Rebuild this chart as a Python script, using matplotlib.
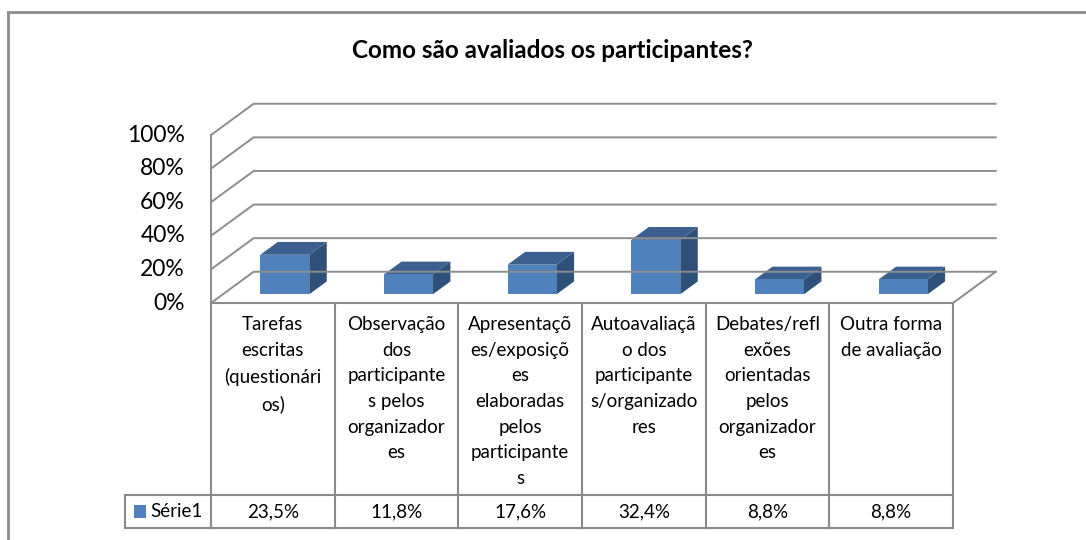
import matplotlib.pyplot as plt
from matplotlib.patches import Polygon, Rectangle
from matplotlib.lines import Line2D

plt.rcParams['font.family'] = ['Lato', 'DejaVu Sans']

# data
categories = [
    "Tarefas\nescritas\n(questionári\nos)",
    "Observação\ndos\nparticipante\ns pelos\norganizador\nes",
    "Apresentaçõ\nes/exposiçõ\nes\nelaboradas\npelos\nparticipante\ns",
    "Autoavaliaçã\no dos\nparticipante\ns/organizado\nres",
    "Debates/refl\nexões\norientadas\npelos\norganizador\nes",
    "Outra forma\nde avaliação",
]
values = [0.235, 0.118, 0.176, 0.324, 0.088, 0.088]
value_labels = ["23,5%", "11,8%", "17,6%", "32,4%", "8,8%", "8,8%"]
series_name = "Série1"
yticks = [0, 0.2, 0.4, 0.6, 0.8, 1.0]

W, H = 1086, 540
fig = plt.figure(figsize=(W / 100, H / 100), dpi=100)

# plot area in pixels: front floor edge 211..953, value axis 303 (0%) .. 135 (100%)
ax = fig.add_axes([211 / W, (H - 303) / H, (953 - 211) / W, (303 - 135) / H])
n = len(values)
ax.set_xlim(0, n)
ax.set_ylim(0, 1)
ax.axis('off')

DX, DY = 0.345, 0.186          # depth offset of back wall (data units)
grid_c = '#8c8c8c'
line_c = '#8a8a8a'

# left wall and back wall grid
ax.add_line(Line2D([0, 0], [0, 1], color=grid_c, lw=1.4, clip_on=False))
for g in yticks:
    ax.add_line(Line2D([0, DX, n + DX], [g, g + DY, g + DY], color=grid_c,
                       lw=1.4, clip_on=False, solid_joinstyle='miter'))
    ax.text(-0.21, g, f"{int(round(g * 100))}%", ha='right', va='center',
            fontsize=16.5, color='#000000')
# floor right edge
ax.add_line(Line2D([n, n + DX], [0, DY], color=grid_c, lw=1.4, clip_on=False))

# 3d columns
f0, f1 = 0.28, 0.69
bw = 0.198
front_c, top_c, side_c = '#4f81bd', '#3b6090', '#2f5078'
for i, v in enumerate(values):
    cx = i + 0.5 + f0 * DX
    b = f0 * DY
    x0, x1 = cx - bw, cx + bw
    ddx, ddy = (f1 - f0) * DX, (f1 - f0) * DY
    ax.add_patch(Polygon([(x1, b), (x1 + ddx, b + ddy), (x1 + ddx, b + v + ddy), (x1, b + v)],
                         closed=True, facecolor=side_c, edgecolor='none', clip_on=False))
    ax.add_patch(Polygon([(x0, b + v), (x1, b + v), (x1 + ddx, b + v + ddy), (x0 + ddx, b + v + ddy)],
                         closed=True, facecolor=top_c, edgecolor='none', clip_on=False))
    ax.add_patch(Rectangle((x0, b), x1 - x0, v, facecolor=front_c, edgecolor='none', clip_on=False))

# data table below the plot
px = 1 / (303 - 135)          # one pixel in value units
row_top = 0
row_mid = -(495 - 303) * px
row_bot = -(528 - 303) * px
leg_left = -(211 - 125) / ((953 - 211) / n)
tab_kw = dict(color=line_c, lw=1.5, clip_on=False)
ax.add_line(Line2D([0, n], [row_top, row_top], **tab_kw))
ax.add_line(Line2D([leg_left, n], [row_mid, row_mid], **tab_kw))
ax.add_line(Line2D([leg_left, n], [row_bot, row_bot], **tab_kw))
ax.add_line(Line2D([leg_left, leg_left], [row_mid, row_bot], **tab_kw))
for k in range(n + 1):
    ax.add_line(Line2D([k, k], [row_top, row_bot], **tab_kw))

for i, (cat, lab) in enumerate(zip(categories, value_labels)):
    ax.text(i + 0.5, -(316 - 303) * px, cat, ha='center', va='top',
            fontsize=13.5, linespacing=1.62, color='#000000')
    ax.text(i + 0.5, (row_mid + row_bot) / 2, lab, ha='center', va='center',
            fontsize=13.5, color='#000000')

# legend key in the table
ax.add_patch(Rectangle((leg_left + 9 / 123.7, row_mid - 10 * px), 12 / 123.7, -13 * px,
                       facecolor=front_c, edgecolor='none', clip_on=False))
ax.text(leg_left + 25 / 123.7, (row_mid + row_bot) / 2, series_name, ha='left', va='center',
        fontsize=13.5, color='#000000')

# title
fig.text(553 / W, 1 - 50 / H, "Como são avaliados os participantes?", ha='center', va='center',
         fontsize=17.5, fontweight='bold', color='#000000')

# chart frame (left and top edges)
fig.add_artist(Line2D([8 / W, 8 / W], [0, 1 - 12 / H], color='#8c8c8c', lw=2, transform=fig.transFigure))
fig.add_artist(Line2D([8 / W, 1], [1 - 12 / H, 1 - 12 / H], color='#8c8c8c', lw=2, transform=fig.transFigure))

fig.savefig("out.png", dpi=100)
